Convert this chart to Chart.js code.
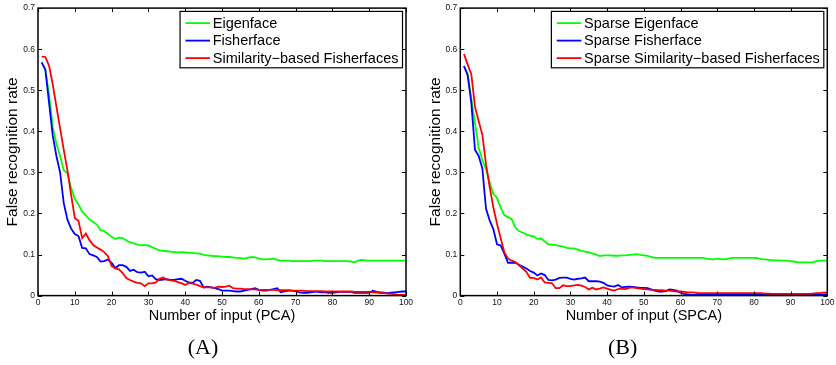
<!DOCTYPE html>
<html>
<head>
<meta charset="utf-8">
<script src="https://cdn.jsdelivr.net/npm/chart.js@4.4.1/dist/chart.umd.min.js"></script>
<style>
  body { margin: 0; background: #fff; }
  #wrap { display: flex; width: 836px; height: 365px; }
  canvas { display: block; }
</style>
</head>
<body>
<div id="wrap">
  <canvas id="graph_a" width="418" height="365"></canvas>
  <canvas id="graph_b" width="418" height="365"></canvas>
</div>
<script>
"use strict";

// x Werte (Anzahl der Eingaben) und Achsenbeschriftung
const input_count = [
  1, 2, 3, 4, 5, 6, 7, 8, 9, 10, 11, 12, 13, 14, 15, 16, 17, 18, 19, 20,
  21, 22, 23, 24, 25, 26, 27, 28, 29, 30, 31, 32, 33, 34, 35, 36, 37, 38, 39, 40,
  41, 42, 43, 44, 45, 46, 47, 48, 49, 50, 51, 52, 53, 54, 55, 56, 57, 58, 59, 60,
  61, 62, 63, 64, 65, 66, 67, 68, 69, 70, 71, 72, 73, 74, 75, 76, 77, 78, 79, 80,
  81, 82, 83, 84, 85, 86, 87, 88, 89, 90, 91, 92, 93, 94, 95, 96, 97, 98, 99, 100,
];
const x_ticks = [0, 10, 20, 30, 40, 50, 60, 70, 80, 90, 100];
const y_ticks = [0, 0.1, 0.2, 0.3, 0.4, 0.5, 0.6, 0.7];

// (A) PCA
const pca_eigen = [
  0.568, 0.550, 0.490, 0.410, 0.370, 0.340, 0.305, 0.298, 0.262, 0.235,
  0.222, 0.205, 0.195, 0.185, 0.179, 0.173, 0.159, 0.157, 0.150, 0.143,
  0.138, 0.141, 0.140, 0.134, 0.130, 0.127, 0.124, 0.123, 0.123, 0.122,
  0.118, 0.114, 0.110, 0.109, 0.108, 0.107, 0.106, 0.105, 0.106, 0.105,
  0.104, 0.104, 0.103, 0.102, 0.099, 0.098, 0.097, 0.096, 0.096, 0.095,
  0.094, 0.094, 0.093, 0.092, 0.091, 0.090, 0.092, 0.094, 0.093, 0.090,
  0.088, 0.088, 0.089, 0.090, 0.087, 0.085, 0.085, 0.085, 0.084, 0.084,
  0.084, 0.084, 0.084, 0.084, 0.085, 0.085, 0.085, 0.084, 0.084, 0.084,
  0.084, 0.084, 0.084, 0.084, 0.083, 0.081, 0.085, 0.087, 0.086, 0.085,
  0.085, 0.085, 0.085, 0.085, 0.085, 0.085, 0.085, 0.085, 0.085, 0.085,
];
const pca_fisher = [
  0.568, 0.550, 0.470, 0.390, 0.340, 0.300, 0.225, 0.185, 0.163, 0.150,
  0.145, 0.116, 0.115, 0.101, 0.098, 0.094, 0.083, 0.084, 0.088, 0.080,
  0.067, 0.074, 0.074, 0.070, 0.060, 0.063, 0.057, 0.056, 0.058, 0.047,
  0.049, 0.040, 0.038, 0.039, 0.040, 0.038, 0.038, 0.040, 0.041, 0.036,
  0.032, 0.031, 0.038, 0.036, 0.020, 0.022, 0.020, 0.018, 0.016, 0.012,
  0.012, 0.012, 0.011, 0.010, 0.010, 0.012, 0.014, 0.016, 0.018, 0.014,
  0.012, 0.012, 0.014, 0.016, 0.018, 0.008, 0.010, 0.012, 0.012, 0.010,
  0.008, 0.007, 0.007, 0.008, 0.009, 0.009, 0.008, 0.008, 0.007, 0.007,
  0.008, 0.009, 0.009, 0.009, 0.009, 0.007, 0.007, 0.007, 0.007, 0.007,
  0.012, 0.009, 0.008, 0.007, 0.006, 0.007, 0.008, 0.009, 0.010, 0.010,
];
const pca_similarity = [
  0.582, 0.581, 0.560, 0.515, 0.460, 0.408, 0.355, 0.305, 0.245, 0.189,
  0.182, 0.140, 0.151, 0.135, 0.123, 0.117, 0.112, 0.106, 0.096, 0.072,
  0.066, 0.064, 0.055, 0.043, 0.038, 0.034, 0.031, 0.030, 0.023, 0.030,
  0.030, 0.032, 0.041, 0.044, 0.039, 0.037, 0.036, 0.033, 0.030, 0.026,
  0.031, 0.029, 0.027, 0.023, 0.020, 0.020, 0.020, 0.019, 0.022, 0.021,
  0.022, 0.024, 0.018, 0.017, 0.017, 0.016, 0.016, 0.015, 0.015, 0.014,
  0.014, 0.014, 0.014, 0.014, 0.013, 0.013, 0.013, 0.013, 0.012, 0.012,
  0.012, 0.012, 0.011, 0.011, 0.011, 0.011, 0.011, 0.010, 0.010, 0.010,
  0.010, 0.010, 0.010, 0.010, 0.010, 0.009, 0.009, 0.009, 0.009, 0.009,
  0.008, 0.007, 0.006, 0.006, 0.005, 0.004, 0.003, 0.002, 0.002, 0.001,
];

// (B) SPCA
const spca_eigen = [
  0.559, 0.539, 0.480, 0.420, 0.360, 0.330, 0.308, 0.275, 0.248, 0.238,
  0.215, 0.196, 0.191, 0.186, 0.166, 0.157, 0.153, 0.149, 0.146, 0.144,
  0.138, 0.139, 0.132, 0.125, 0.124, 0.123, 0.121, 0.119, 0.116, 0.115,
  0.115, 0.112, 0.109, 0.107, 0.105, 0.103, 0.100, 0.096, 0.098, 0.098,
  0.098, 0.097, 0.097, 0.098, 0.098, 0.099, 0.100, 0.101, 0.099, 0.098,
  0.097, 0.094, 0.092, 0.092, 0.092, 0.092, 0.092, 0.092, 0.092, 0.092,
  0.092, 0.092, 0.092, 0.092, 0.092, 0.092, 0.090, 0.089, 0.088, 0.090,
  0.089, 0.088, 0.090, 0.092, 0.092, 0.092, 0.092, 0.092, 0.092, 0.092,
  0.091, 0.089, 0.088, 0.087, 0.086, 0.086, 0.086, 0.085, 0.085, 0.084,
  0.083, 0.081, 0.081, 0.081, 0.081, 0.081, 0.084, 0.085, 0.085, 0.085,
];
const spca_fisher = [
  0.559, 0.537, 0.470, 0.355, 0.340, 0.310, 0.212, 0.183, 0.162, 0.125,
  0.122, 0.102, 0.080, 0.080, 0.080, 0.075, 0.071, 0.066, 0.060, 0.056,
  0.049, 0.054, 0.050, 0.038, 0.037, 0.039, 0.043, 0.044, 0.044, 0.041,
  0.039, 0.041, 0.042, 0.044, 0.035, 0.035, 0.035, 0.034, 0.031, 0.025,
  0.023, 0.022, 0.026, 0.020, 0.021, 0.022, 0.021, 0.020, 0.019, 0.019,
  0.018, 0.015, 0.012, 0.010, 0.010, 0.011, 0.015, 0.014, 0.012, 0.007,
  0.004, 0.003, 0.002, 0.002, 0.003, 0.003, 0.002, 0.002, 0.003, 0.003,
  0.003, 0.003, 0.002, 0.002, 0.003, 0.003, 0.003, 0.002, 0.003, 0.003,
  0.003, 0.003, 0.002, 0.002, 0.003, 0.003, 0.003, 0.003, 0.003, 0.003,
  0.003, 0.002, 0.002, 0.002, 0.002, 0.002, 0.002, 0.002, 0.002, 0.002,
];
const spca_similarity = [
  0.588, 0.563, 0.539, 0.460, 0.425, 0.392, 0.320, 0.265, 0.215, 0.175,
  0.140, 0.105, 0.090, 0.085, 0.082, 0.074, 0.066, 0.058, 0.043, 0.043,
  0.039, 0.044, 0.032, 0.031, 0.030, 0.018, 0.018, 0.025, 0.023, 0.023,
  0.025, 0.026, 0.024, 0.021, 0.015, 0.019, 0.015, 0.017, 0.020, 0.017,
  0.014, 0.012, 0.016, 0.017, 0.016, 0.019, 0.020, 0.018, 0.017, 0.016,
  0.015, 0.014, 0.014, 0.013, 0.013, 0.012, 0.012, 0.011, 0.010, 0.010,
  0.009, 0.008, 0.008, 0.007, 0.006, 0.006, 0.006, 0.006, 0.006, 0.006,
  0.006, 0.006, 0.006, 0.006, 0.006, 0.006, 0.006, 0.006, 0.006, 0.006,
  0.006, 0.006, 0.005, 0.005, 0.004, 0.004, 0.004, 0.004, 0.004, 0.004,
  0.004, 0.004, 0.004, 0.004, 0.004, 0.005, 0.006, 0.006, 0.007, 0.007,
];

const labels_a = ["Eigenface", "Fisherface", "Similarity\u2212based Fisherfaces"];
const labels_b = ["Sparse Eigenface", "Sparse Fisherface", "Sparse Similarity\u2212based Fisherfaces"];
const x_titles = ["Number of input (PCA)", "Number of input (SPCA)"];
const y_title = "False recognition rate";
const captions = ["(A)", "(B)"];
const line_colors = ["#00ff00", "#0000ff", "#ff0000"];

const sans = "'Liberation Sans', Arial, sans-serif";
Chart.defaults.font.family = sans;

// Rahmen mit Ticks nach innen (alle vier Seiten)
const frame_plugin = {
  id: "frame",
  afterDatasetsDraw(chart) {
    const { ctx, chartArea: a, scales } = chart;
    const len = 4;
    ctx.save();
    ctx.strokeStyle = "#000";
    ctx.lineWidth = 1;
    ctx.beginPath();
    scales.x.ticks.forEach((t) => {
      const px = Math.round(scales.x.getPixelForValue(t.value)) + 0.5;
      ctx.moveTo(px, a.bottom);
      ctx.lineTo(px, a.bottom - len);
      ctx.moveTo(px, a.top);
      ctx.lineTo(px, a.top + len);
    });
    scales.y.ticks.forEach((t) => {
      const py = Math.round(scales.y.getPixelForValue(t.value)) + 0.5;
      ctx.moveTo(a.left, py);
      ctx.lineTo(a.left + len, py);
      ctx.moveTo(a.right, py);
      ctx.lineTo(a.right - len, py);
    });
    ctx.stroke();
    ctx.lineWidth = 1.5;
    ctx.strokeRect(a.left, a.top, a.right - a.left, a.bottom - a.top);
    ctx.restore();
  },
};

// Legende oben rechts im Diagramm, mit Rahmen
const legend_plugin = {
  id: "box_legend",
  afterDatasetsDraw(chart) {
    const { ctx, chartArea: a } = chart;
    const font = "14.5px " + sans;
    ctx.save();
    ctx.font = font;
    const sets = chart.data.datasets;
    const text_w = Math.max(...sets.map((d) => ctx.measureText(d.label).width));
    const w = 32.7 + text_w + 4;
    const h = 56.4;
    const x0 = a.right - 3.5 - w;
    const y0 = a.top + 3.3;
    ctx.fillStyle = "#fff";
    ctx.fillRect(x0, y0, w, h);
    ctx.strokeStyle = "#000";
    ctx.lineWidth = 1.2;
    ctx.strokeRect(x0, y0, w, h);
    sets.forEach((d, i) => {
      const row_y = y0 + 11.7 + i * 17.5;
      ctx.strokeStyle = d.borderColor;
      ctx.lineWidth = 1.8;
      ctx.beginPath();
      ctx.moveTo(x0 + 5.4, row_y);
      ctx.lineTo(x0 + 30, row_y);
      ctx.stroke();
      ctx.fillStyle = "#000";
      ctx.textBaseline = "middle";
      ctx.textAlign = "left";
      ctx.fillText(d.label, x0 + 32.7, row_y + 0.5);
    });
    ctx.restore();
  },
};

function make_chart(canvas_id, series, labels, x_title, caption, pad) {
  const datasets = series.map((values, i) => ({
    label: labels[i],
    data: input_count.map((n, k) => ({ x: n, y: values[k] })),
    borderColor: line_colors[i],
    backgroundColor: line_colors[i],
    borderWidth: 1.8,
    pointRadius: 0,
    tension: 0,
    order: 3 - i,
  }));

  const tick_font = { family: sans, size: 8.5 };

  return new Chart(document.getElementById(canvas_id), {
    type: "line",
    data: { datasets: datasets },
    options: {
      responsive: false,
      animation: false,
      devicePixelRatio: 1,
      layout: { padding: { left: 0, right: pad.right, top: 6, bottom: 0 } },
      plugins: {
        legend: { display: false },
        tooltip: { enabled: false },
        title: {
          display: true,
          position: "bottom",
          text: caption,
          color: "#000",
          font: { family: "'Liberation Serif', 'DejaVu Serif', serif", size: 22, weight: "normal" },
          padding: { top: 6, bottom: 4 },
        },
      },
      scales: {
        x: {
          type: "linear",
          min: 0,
          max: 100,
          afterBuildTicks: (scale) => {
            scale.ticks = x_ticks.map((v) => ({ value: v }));
          },
          afterFit: (scale) => {
            scale.height = 33;
          },
          grid: { display: false, drawTicks: false },
          border: { display: false },
          ticks: { padding: 1.5, color: "#111", font: tick_font, maxRotation: 0 },
          title: {
            display: true,
            text: x_title,
            color: "#000",
            font: { family: sans, size: 14.5 },
            padding: { top: 0, bottom: 4 },
          },
        },
        y: {
          type: "linear",
          min: 0,
          max: 0.7,
          afterBuildTicks: (scale) => {
            scale.ticks = y_ticks.map((v) => ({ value: v }));
          },
          afterFit: (scale) => {
            scale.width = pad.axis;
          },
          grid: { display: false, drawTicks: false },
          border: { display: false },
          ticks: { padding: 3, color: "#111", font: tick_font },
          title: {
            display: true,
            text: y_title,
            color: "#000",
            font: { family: sans, size: 15.5 },
            padding: { top: pad.title, bottom: 0 },
          },
        },
      },
    },
    plugins: [frame_plugin, legend_plugin],
  });
}

make_chart("graph_a", [pca_eigen, pca_fisher, pca_similarity], labels_a, x_titles[0], captions[0],
  { axis: 38, right: 12, title: 3.2 });
make_chart("graph_b", [spca_eigen, spca_fisher, spca_similarity], labels_b, x_titles[1], captions[1],
  { axis: 42.3, right: 8.7, title: 8.2 });
</script>
</body>
</html>
